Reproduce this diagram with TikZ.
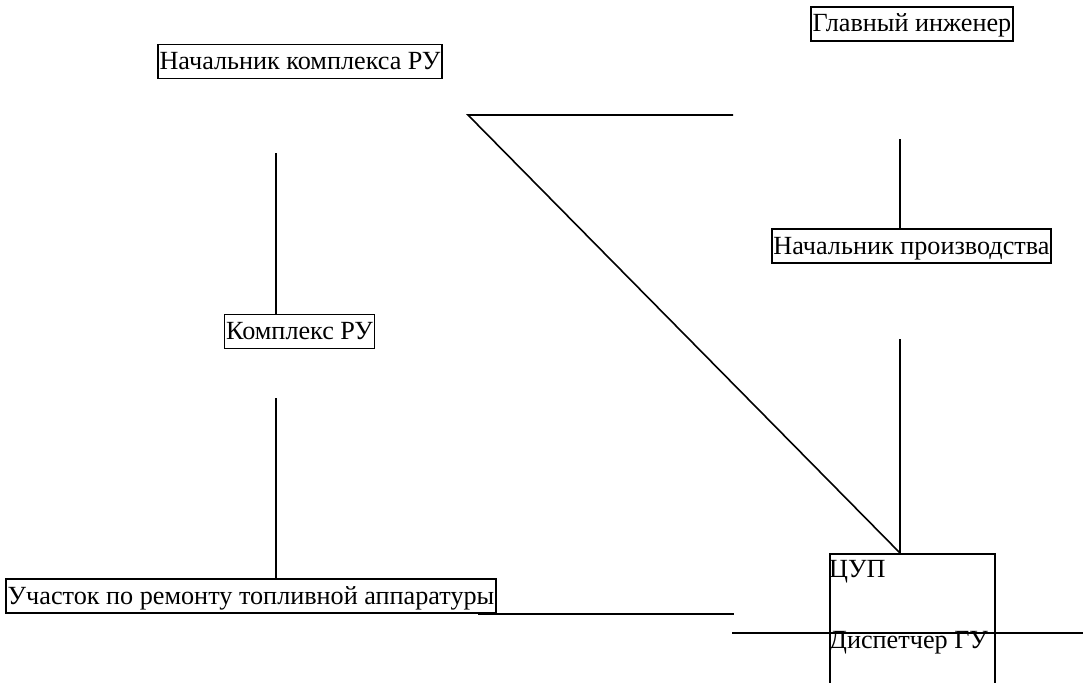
\documentclass[tikz,border=0pt]{standalone}
\usepackage{fontspec}
\setmainfont{Liberation Serif}
\usepackage{tikz}
\usetikzlibrary{calc}

\tikzset{
  post/.style={draw, line width=1.6pt, inner xsep=1.5pt, inner ysep=0pt, text height=25pt, text depth=9pt},
  plain/.style={inner sep=0pt},
  link/.style={line width=1.6pt}
}

\begin{document}
\begin{tikzpicture}[x=1pt, y=-1pt, every node/.style={font=\fontsize{26.2}{31}\selectfont}]
    \useasboundingbox (0,0) rectangle (1083,682);
    \clip (0,0) rectangle (1083,682);
    \fill[white] (0,0) rectangle (1083,682);

    \node[post] (glav) at (912,24) {Главный инженер};
    \node[post] (nachkr) at (300,61.5) {Начальник комплекса РУ};
    \node[post] (nachpr) at (911.5,246) {Начальник производства};
    \node[post] (kompl) at (299.5,331.5) {Комплекс РУ};
    \node[post] (uchastok) at (251,596) {Участок по ремонту топливной аппаратуры};
    \node[draw, line width=1.6pt, minimum width=165pt, minimum height=160pt, anchor=north west] (cup) at (829,553) {};
    \node[plain, anchor=base west] (cuptext) at (829,577) {ЦУП};
    \node[plain, anchor=base west] (disp) at (829,648) {Диспетчер ГУ};

    \coordinate (k1) at (276,153);
    \coordinate (k2) at (276,398);
    \coordinate (c1) at (468,115);
    \coordinate (c2) at (733,115);
    \coordinate (g1) at (900,139);
    \coordinate (p1) at (900,339);
    \coordinate (u1) at (478,614);
    \coordinate (u2) at (734,614);
    \coordinate (d1) at (732,633);
    \coordinate (d2) at (1083,633);

    \draw[link] (k1) -- (k1 |- kompl.north);
    \draw[link] (k2) -- (k2 |- uchastok.north);
    \draw[link] (c2) -- (c1) -- (cup.north -| g1);
    \draw[link] (g1) -- (g1 |- nachpr.north);
    \draw[link] (p1) -- (p1 |- cup.north);
    \draw[link] (u1) -- (u2);
    \draw[link] (d1) -- (d2);
  \end{tikzpicture}
\end{document}
